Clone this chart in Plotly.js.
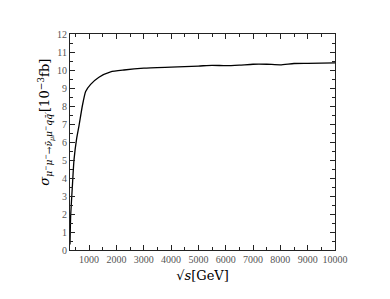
<!DOCTYPE html>
<html>
<head>
<meta charset="utf-8">
<script src="https://cdn.plot.ly/plotly-3.0.1.min.js"></script>
<style>html,body{margin:0;padding:0;background:#fff;}#plot{width:390px;height:299px;}</style>
</head>
<body>
<div id="plot"></div>
<script>
const sqrtS = [300, 324, 385, 446, 544, 629, 751, 873, 1055, 1360, 1787, 2274, 3005, 4000, 5000, 5500, 6000, 6500, 7000, 7500, 8000, 8500, 9000, 10000];
const sigma = [0.3, 1.9, 3.5, 5.0, 6.2, 6.9, 8.0, 8.8, 9.2, 9.6, 9.9, 10.0, 10.1, 10.16, 10.22, 10.26, 10.24, 10.27, 10.32, 10.32, 10.29, 10.36, 10.37, 10.4];
const xTickVals = [1000, 2000, 3000, 4000, 5000, 6000, 7000, 8000, 9000, 10000];
const xTickText = ['1000', '2000', '3000', '4000', '5000', '6000', '7000', '8000', '9000', '10000'];
const yTickVals = [0, 1, 2, 3, 4, 5, 6, 7, 8, 9, 10, 11, 12];

const serif = "Liberation Serif, DejaVu Serif, serif";
const trace = {
  x: sqrtS, y: sigma, type: 'scatter', mode: 'lines',
  line: {color: '#000', width: 1.3, shape: 'spline', smoothing: 0.5},
  hoverinfo: 'skip'
};
const axisCommon = {
  showgrid: false, zeroline: false, showline: true, linecolor: '#222', linewidth: 1,
  mirror: 'ticks', ticks: 'inside', ticklen: 5, tickcolor: '#222', tickwidth: 1,
  tickangle: 0, automargin: false,
  tickfont: {family: serif, size: 10, color: '#555'}
};
const layout = {
  width: 390, height: 299,
  margin: {l: 70, r: 55, t: 34, b: 49},
  paper_bgcolor: '#fff', plot_bgcolor: '#fff',
  showlegend: false,
  xaxis: Object.assign({}, axisCommon, {
    range: [300, 10000], tickmode: 'array', tickvals: xTickVals, ticktext: xTickText,
    minor: {dtick: 500, tick0: 0, ticks: 'inside', ticklen: 3, tickcolor: '#222'},
    title: {text: '√<span style="font-style:italic">s</span>[GeV]', font: {family: "DejaVu Serif, serif", size: 13, color: '#000'}, standoff: 6}
  }),
  yaxis: Object.assign({}, axisCommon, {
    range: [0, 12], tickmode: 'array', tickvals: yTickVals,
    minor: {dtick: 0.5, tick0: 0, ticks: 'inside', ticklen: 3, tickcolor: '#222'}
  }),
  annotations: [{
    xref: 'paper', yref: 'paper', x: -0.094, y: 0.59, xanchor: 'center', yanchor: 'middle',
    textangle: -90, showarrow: false,
    text: '<i>σ</i><sub><i>μ</i><sup>−</sup><i>μ</i><sup>−</sup>→<i>ν̄</i><sub><i>μ</i></sub><i>μ</i><sup>−</sup><i>q</i><i>q̄</i>′</sub>[10<sup>−3</sup>fb]',
    font: {family: "DejaVu Serif, serif", size: 13, color: '#000'}
  }]
};
Plotly.newPlot('plot', [trace], layout, {staticPlot: true, displayModeBar: false});
</script>
</body>
</html>
